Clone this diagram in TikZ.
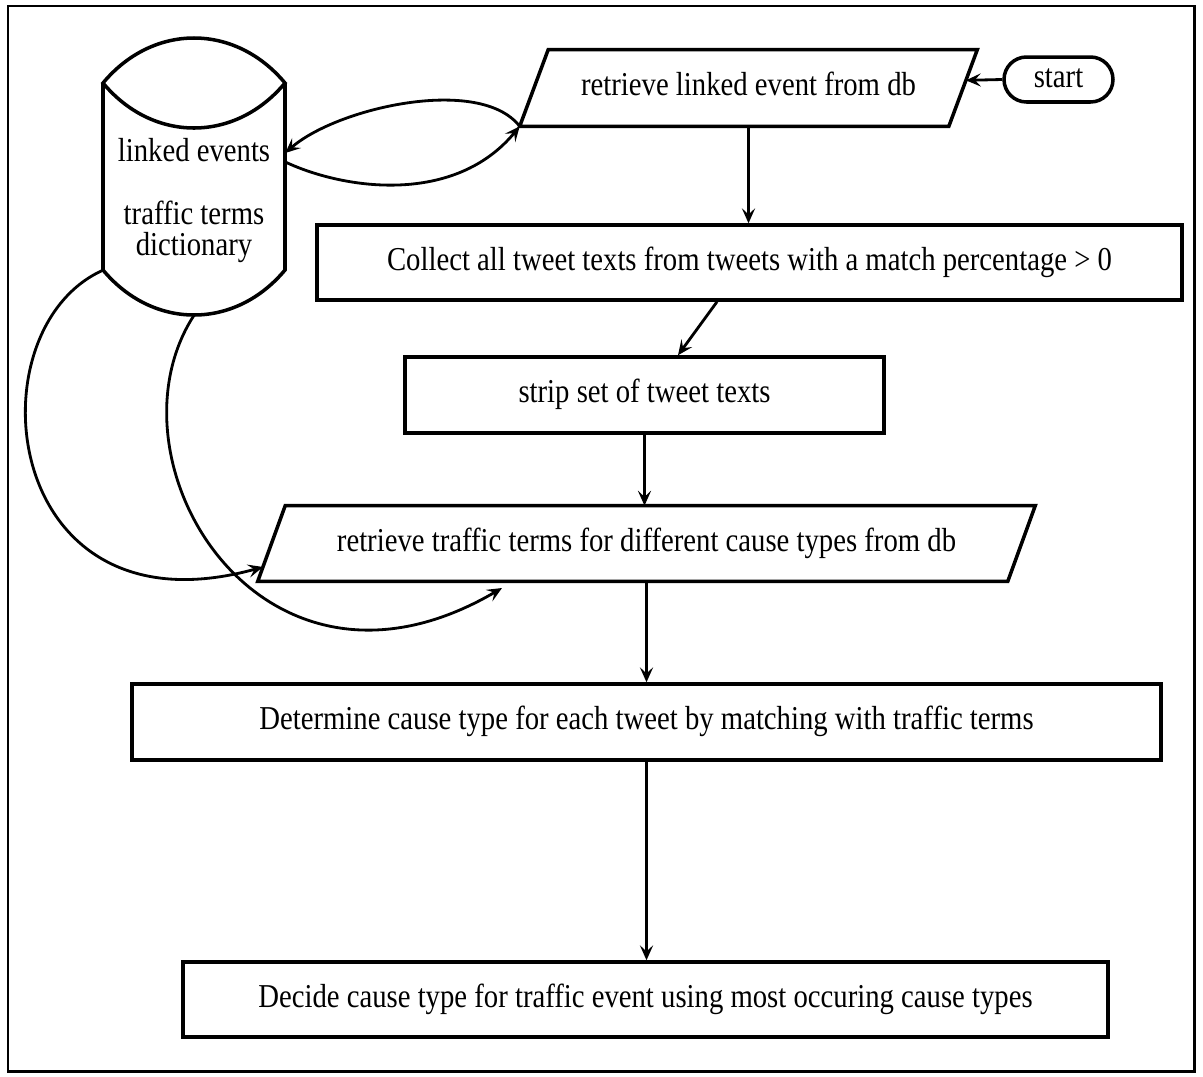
\documentclass[tikz,border=0pt]{standalone}
\usepackage{fontspec}
\setmainfont[FakeStretch=0.86]{Liberation Serif}
\usetikzlibrary{arrows.meta,calc}
\begin{document}
\begin{tikzpicture}[x=0.02cm,y=-0.02cm,
  every node/.style={font=\fontsize{19pt}{20pt}\selectfont, inner sep=0pt},
  boxnode/.style={draw, line width=2pt, rectangle, text height=12pt, text depth=3pt},
  ionode/.style={rectangle, text height=12pt, text depth=3pt},
  startnode/.style={draw, line width=2pt, rectangle, rounded corners=0.45cm, text height=12pt, text depth=3pt},
  outline/.style={line width=2pt, line join=miter},
  conn/.style={line width=1.6pt, -{Stealth[length=8.5pt,width=7.5pt,inset=3.5pt]}},
  lbl/.style={anchor=base}
]
\useasboundingbox[fill=white] (0,0) rectangle (1203,1076);
\draw[line width=1.7pt] (8,6) rectangle (1194,1071);

% database cylinder
\node[rectangle, minimum width=3.64cm, minimum height=3.74cm] (db) at (194,176.5) {};
\draw[outline] (103,83) .. controls (153,23) and (235,23) .. (285,83)
  .. controls (235,143) and (153,143) .. (103,83) -- cycle;
\draw[outline] (103,83) -- (103,270) .. controls (153,330) and (235,330) .. (285,270) -- (285,83);
\node[lbl] (dbt1) at (194,161) {linked events};
\node[lbl] (dbt2) at (194,224) {traffic terms};
\node[lbl] (dbt3) at (194,255) {dictionary};
\coordinate (dbE1) at ([yshift=0.47cm]db.east);
\coordinate (dbE2) at ([yshift=0.29cm]db.east);
\coordinate (dbB) at ([yshift=-0.9cm]db.south);

% retrieve linked event (parallelogram)
\node[ionode, minimum width=9.14cm, minimum height=1.52cm] (p1) at (748.5,88) {retrieve linked event from db};
\draw[outline] ([xshift=0.57cm]p1.north west) -- (p1.north east) -- ([xshift=-0.57cm]p1.south east) -- (p1.south west) -- cycle;
\coordinate (p1r) at ($(p1.north east)!0.40!([xshift=-0.57cm]p1.south east)$);

% start
\node[startnode, minimum width=2.18cm, minimum height=0.9cm] (start) at (1058.5,79.5) {start};

% process boxes
\node[boxnode, minimum width=17.3cm, minimum height=1.5cm] (collect) at (749.5,262.5) {Collect all tweet texts from tweets with a match percentage > 0};
\node[boxnode, minimum width=9.58cm, minimum height=1.52cm] (strip) at (644.5,395) {strip set of tweet texts};

% retrieve traffic terms (parallelogram)
\node[ionode, minimum width=15.54cm, minimum height=1.5cm] (p2) at (646.5,543.5) {retrieve traffic terms for different cause types from db};
\draw[outline] ([xshift=0.55cm]p2.north west) -- (p2.north east) -- ([xshift=-0.55cm]p2.south east) -- (p2.south west) -- cycle;
\coordinate (p2l) at ($([xshift=0.55cm]p2.north west)!0.81!(p2.south west)$);
\coordinate (p2b) at (502,588);

\node[boxnode, minimum width=20.58cm, minimum height=1.52cm] (determine) at (646.5,722) {Determine cause type for each tweet by matching with traffic terms};
\node[boxnode, minimum width=18.5cm, minimum height=1.5cm] (decide) at (645.5,999.5) {Decide cause type for traffic event using most occuring cause types};

% connectors
\draw[conn] (start.west) -- (p1r);
\draw[conn] (p1.south) -- (p1.south |- collect.north);
\draw[conn] ([xshift=-0.65cm]collect.south) -- ([xshift=0.67cm]strip.north);
\draw[conn] (strip.south) -- (strip.south |- p2.north);
\draw[conn] (p2.south) -- (determine.north);
\draw[conn] (determine.south) -- (determine.south |- decide.north);

\draw[conn] (p1.south west) .. controls (480,75) and (336,108) .. (dbE1);
\draw[conn] (dbE2) .. controls (345,190) and (455,205) .. (p1.south west);
\draw[conn] (db.south west) .. controls (-30,330) and (0,640) .. (p2l);
\draw[conn] (dbB) .. controls (100,460) and (260,730) .. (p2b);
\end{tikzpicture}
\end{document}
